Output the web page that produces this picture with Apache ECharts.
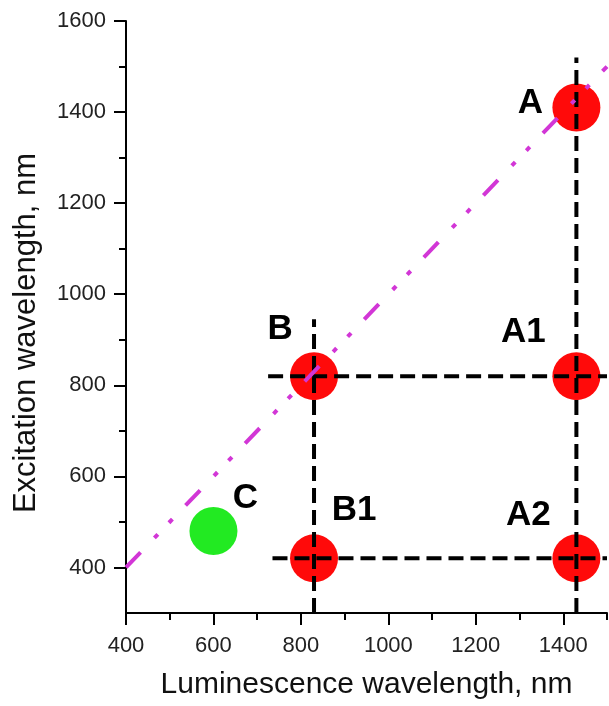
<!DOCTYPE html>
<html>
<head>
<meta charset="utf-8">
<script src="https://cdn.jsdelivr.net/npm/echarts@6/dist/echarts.min.js"></script>
<style>
  html, body { margin: 0; padding: 0; background: #fff; }
  #chart { width: 609px; height: 706px; }
</style>
</head>
<body>
<div id="chart"></div>
<script>
// Axis ticks
const xMajorTicks = [400, 600, 800, 1000, 1200, 1400];
const xMinorTicks = [500, 700, 900, 1100, 1300, 1500];
const yMajorTicks = [400, 600, 800, 1000, 1200, 1400, 1600];
const yMinorTicks = [500, 700, 900, 1100, 1300, 1500];

// Emission centres (luminescence, excitation), nm
const redNames = ['A', 'A1', 'A2', 'B', 'B1'];
const redLum   = [1430, 1430, 1430, 830, 830];
const redExc   = [1410, 820, 420, 820, 420];
const greenNames = ['C'];
const greenLum   = [600];
const greenExc   = [480];

// Guide lines: [lum, exc] end points
const guideA  = [[1430, 300], [1430, 1520]];
const guideB  = [[830, 300], [830, 945]];
const guide800 = [[725, 820], [1500, 820]];
const guide400 = [[735, 420], [1500, 420]];
const diagonal = [[400, 400], [1500, 1500]];

// Where each letter sits relative to its circle (px)
const labelShift = {
  A: [-46, -4], A1: [-53, -44], A2: [-48, -43],
  B: [-34, -47], B1: [40, -48], C: [32, -33]
};

function points(names, xs, ys) {
  return names.map((n, i) => ({
    name: n,
    value: [xs[i], ys[i]],
    label: { offset: labelShift[n] }
  }));
}

const font = 'Liberation Sans, Arial, sans-serif';

const labelStyle = {
  show: true,
  position: 'inside',
  formatter: p => p.name,
  fontFamily: font,
  fontWeight: 'bold',
  fontSize: 35,
  color: '#000'
};

const dashed = { color: '#000', width: 4, type: [15, 7] };

function guide(data) {
  return {
    type: 'line', data, symbol: 'none', silent: true, z: 4,
    lineStyle: dashed, animation: false
  };
}

const plain = v => String(v);

const chart = echarts.init(document.getElementById('chart'), null, { renderer: 'canvas' });
chart.setOption({
  animation: false,
  backgroundColor: '#fff',
  grid: { left: 126, right: 2, top: 21, bottom: 93, containLabel: false },
  xAxis: [{
    type: 'value', min: 400, max: 1500,
    name: 'Luminescence wavelength, nm',
    nameLocation: 'middle', nameGap: 57,
    nameTextStyle: { fontFamily: font, fontSize: 30, color: '#111' },
    splitLine: { show: false },
    axisLine: { show: true, onZero: false, lineStyle: { color: '#000', width: 2 } },
    axisTick: { show: true, length: 12, customValues: xMajorTicks, lineStyle: { color: '#000', width: 2 } },
    axisLabel: { customValues: xMajorTicks, formatter: plain, margin: 22, fontFamily: font, fontSize: 22, color: '#222' }
  }, {
    type: 'value', min: 400, max: 1500, position: 'bottom',
    splitLine: { show: false },
    axisLine: { show: false, onZero: false },
    axisTick: { show: true, length: 7, customValues: xMinorTicks, lineStyle: { color: '#000', width: 2 } },
    axisLabel: { show: false }
  }],
  yAxis: [{
    type: 'value', min: 300, max: 1600,
    name: 'Excitation wavelength, nm',
    nameLocation: 'middle', nameGap: 84,
    nameTextStyle: { fontFamily: font, fontSize: 31, color: '#111', padding: [0, 32, 0, 0] },
    splitLine: { show: false },
    axisLine: { show: true, onZero: false, lineStyle: { color: '#000', width: 2 } },
    axisTick: { show: true, length: 12, customValues: yMajorTicks, lineStyle: { color: '#000', width: 2 } },
    axisLabel: { customValues: yMajorTicks, formatter: plain, margin: 20, fontFamily: font, fontSize: 22, color: '#222' }
  }, {
    type: 'value', min: 300, max: 1600, position: 'left',
    splitLine: { show: false },
    axisLine: { show: false, onZero: false },
    axisTick: { show: true, length: 7, customValues: yMinorTicks, lineStyle: { color: '#000', width: 2 } },
    axisLabel: { show: false }
  }],
  series: [
    {
      type: 'scatter', symbol: 'circle', symbolSize: 48, z: 2,
      itemStyle: { color: '#FF0A0A', opacity: 1 },
      data: points(redNames, redLum, redExc),
      label: labelStyle
    },
    {
      type: 'scatter', symbol: 'circle', symbolSize: 48, z: 2,
      itemStyle: { color: '#22EA22', opacity: 1 },
      data: points(greenNames, greenLum, greenExc),
      label: labelStyle
    },
    guide(guideA),
    guide(guideB),
    guide(guide800),
    guide(guide400),
    {
      type: 'line', data: diagonal, symbol: 'none', silent: true, z: 5,
      lineStyle: { color: '#D236D6', width: 4, type: [21, 20, 5, 16, 5, 19] }
    }
  ]
});
</script>
</body>
</html>
